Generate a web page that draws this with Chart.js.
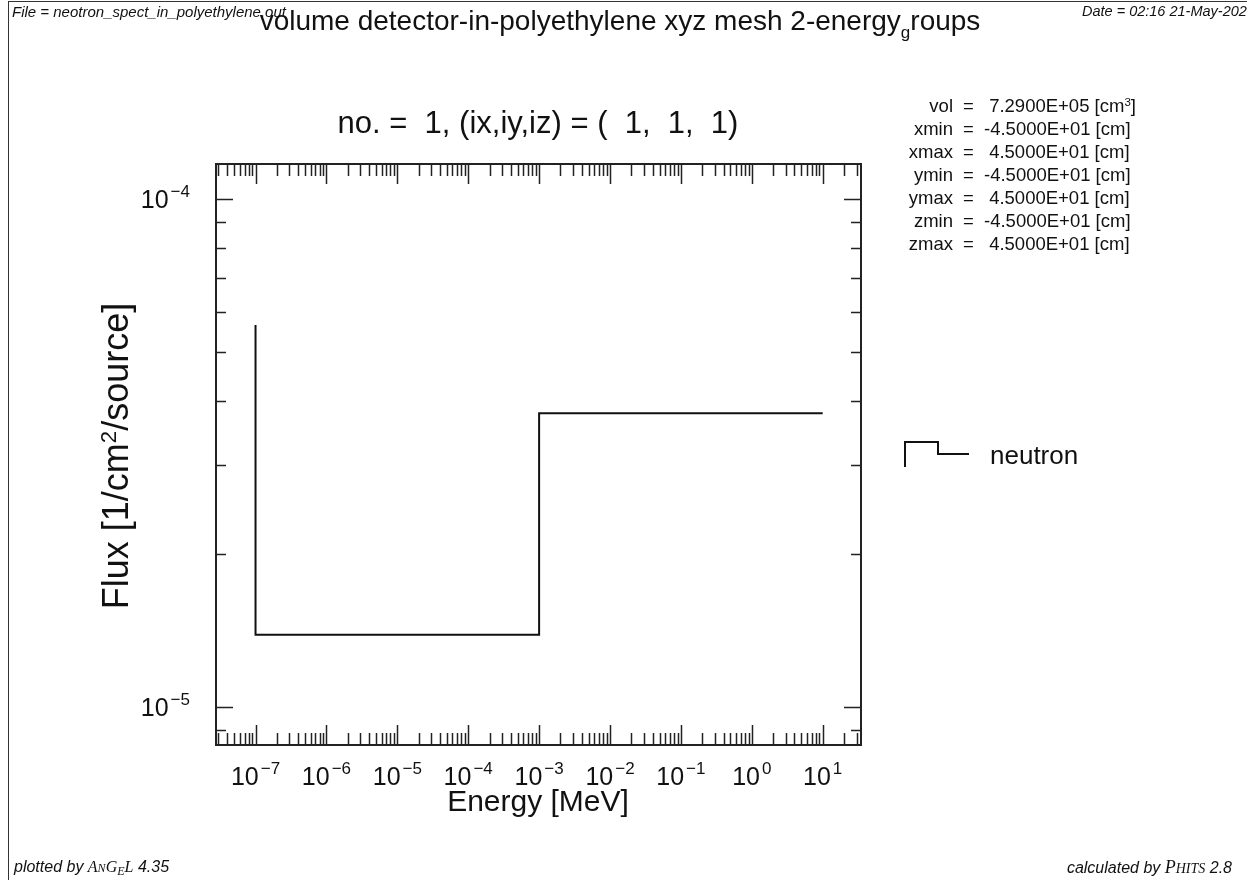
<!DOCTYPE html>
<html>
<head>
<meta charset="utf-8">
<script src="https://cdn.jsdelivr.net/npm/chart.js@4.4.0/dist/chart.umd.min.js"></script>
<style>
  body { margin: 0; background: #fff; }
  #page { position: relative; width: 1247px; height: 880px; overflow: hidden;
          font-family: "Liberation Sans", Arial, sans-serif; color: #111; }
  #flux { position: absolute; left: 0; top: 0; }
  #border { position: absolute; left: 8px; top: 1px; right: -10px; bottom: -10px;
            border-left: 1.5px solid #333; border-top: 1.5px solid #333; }
  .t { position: absolute; white-space: pre; }
  .small { font-size: 15px; line-height: 15px; font-style: italic; }
  .foot { font-size: 16px; line-height: 16px; font-style: italic; }
  .info { font-size: 18.5px; line-height: 18.5px; }
  .serif { font-family: "Liberation Serif", serif; }
  sup { font-size: 0.62em; vertical-align: 0; position: relative; top: -0.55em; }
</style>
</head>
<body>
<div id="page">
  <canvas id="flux" width="1247" height="880"></canvas>
  <div id="border"></div>

  <div class="t small" style="left:12px; top:4px;">File = neotron_spect_in_polyethylene.out</div>
  <div class="t small" style="left:1082px; top:4px; font-size:14.5px;">Date = 02:16 21-May-202</div>
  <div class="t" style="left:620px; top:7px; font-size:28px; line-height:28px; transform:translateX(-50%);">volume detector-in-polyethylene xyz mesh 2-energy<span style="font-size:17px; position:relative; top:8px;">g</span>roups</div>
  <div class="t" style="left:538px; top:107px; font-size:31px; line-height:31px; transform:translateX(-50%);">no. =  1, (ix,iy,iz) = (  1,  1,  1)</div>

  <div id="info"></div>

  <div class="t" style="left:538px; top:786px; font-size:30px; line-height:30px; transform:translateX(-50%);">Energy [MeV]</div>
  <div class="t" style="left:118px; top:456px; font-size:36px; line-height:36px; transform:translate(-50%,-50%) rotate(-90deg);">Flux [1/cm<sup>2</sup>/source]</div>

  <div class="t foot" style="left:14px; top:859px;">plotted by <span class="serif">A<span style="font-size:12px;">N</span>G<span style="font-size:12px; position:relative; top:3px;">E</span>L</span> 4.35</div>
  <div class="t foot" style="right:15px; top:859px;">calculated by <span class="serif" style="font-size:18px;">P<span style="font-size:14px;">HITS</span></span> 2.8</div>
</div>

<script>
// group boundaries [MeV] and flux per group [1/cm2/source]
const energyEdges = [1e-7, 1e-3, 1e1];
const fluxValues = [1.386e-5, 3.785e-5];
// level the histogram line starts from at the first edge
const startLevel = 5.65e-5;

// decade labels on each axis
const xExponents = [-7, -6, -5, -4, -3, -2, -1, 0, 1];
const yExponents = [-5, -4];

// mesh info block
const infoNames = ["vol", "xmin", "xmax", "ymin", "ymax", "zmin", "zmax"];
const infoNumbers = [" 7.2900E+05", "-4.5000E+01", " 4.5000E+01", "-4.5000E+01", " 4.5000E+01", "-4.5000E+01", " 4.5000E+01"];
const infoUnits = ["[cm<sup>3</sup>]", "[cm]", "[cm]", "[cm]", "[cm]", "[cm]", "[cm]"];

const info = document.getElementById("info");
for (let i = 0; i < infoNames.length; i++) {
  const top = 113 + 23 * i - 15.7;
  info.innerHTML +=
    `<div class="t info" style="right:294px; top:${top}px;">${infoNames[i]}</div>` +
    `<div class="t info" style="left:963px; top:${top}px;">=</div>` +
    `<div class="t info" style="left:984px; top:${top}px;">${infoNumbers[i]} ${infoUnits[i]}</div>`;
}

// histogram outline built from the edges and the group values
const stepPoints = [{ x: energyEdges[0], y: startLevel }];
for (let i = 0; i < fluxValues.length; i++) {
  stepPoints.push({ x: energyEdges[i], y: fluxValues[i] });
  stepPoints.push({ x: energyEdges[i + 1], y: fluxValues[i] });
}

function drawPower(ctx, exp, x, y, align) {
  const base = "10";
  const sup = (exp < 0 ? "\u2212" : "") + Math.abs(exp);
  ctx.font = "25px 'Liberation Sans'";
  const wb = ctx.measureText(base).width;
  ctx.font = "17px 'Liberation Sans'";
  const ws = ctx.measureText(sup).width;
  const w = wb + 2 + ws;
  const left = align === "center" ? x - w / 2 : x - w;
  ctx.font = "25px 'Liberation Sans'";
  ctx.fillText(base, left, y);
  ctx.font = "17px 'Liberation Sans'";
  ctx.fillText(sup, left + wb + 2, y - 11);
}

// frame, log ticks on all four sides, decade labels and the legend
const framePlugin = {
  id: "frame",
  afterDatasetsDraw(chart) {
    const ctx = chart.ctx;
    const a = chart.chartArea;
    const xs = chart.scales.x, ys = chart.scales.y;
    ctx.save();
    ctx.strokeStyle = "#222";
    ctx.fillStyle = "#111";
    ctx.lineWidth = 2;
    ctx.strokeRect(a.left, a.top, a.right - a.left, a.bottom - a.top);

    ctx.lineWidth = 1.5;
    ctx.beginPath();
    for (let d = -9; d <= 2; d++) {
      for (let m = 1; m <= 9; m++) {
        const v = m * Math.pow(10, d);
        if (v <= xs.min || v >= xs.max) continue;
        const px = Math.round(xs.getPixelForValue(v)) + 0.5;
        const len = m === 1 ? 20 : 12;
        ctx.moveTo(px, a.bottom); ctx.lineTo(px, a.bottom - len);
        ctx.moveTo(px, a.top); ctx.lineTo(px, a.top + len);
      }
    }
    for (let d = -7; d <= -3; d++) {
      for (let m = 1; m <= 9; m++) {
        const v = m * Math.pow(10, d);
        if (v <= ys.min || v >= ys.max) continue;
        const py = Math.round(ys.getPixelForValue(v)) + 0.5;
        const len = m === 1 ? 17 : 10;
        ctx.moveTo(a.left, py); ctx.lineTo(a.left + len, py);
        ctx.moveTo(a.right, py); ctx.lineTo(a.right - len, py);
      }
    }
    ctx.stroke();

    ctx.textBaseline = "alphabetic";
    ctx.textAlign = "left";
    xExponents.forEach(e => drawPower(ctx, e, xs.getPixelForValue(Math.pow(10, e)), 785, "center"));
    yExponents.forEach(e => drawPower(ctx, e, 190, ys.getPixelForValue(Math.pow(10, e)) + 9, "right"));

    // legend entry
    const ds = chart.data.datasets[0];
    ctx.strokeStyle = ds.borderColor;
    ctx.lineWidth = ds.borderWidth;
    ctx.beginPath();
    ctx.moveTo(905, 467); ctx.lineTo(905, 442); ctx.lineTo(938, 442);
    ctx.lineTo(938, 454); ctx.lineTo(969, 454);
    ctx.stroke();
    ctx.font = "26px 'Liberation Sans'";
    ctx.fillText(ds.label, 990, 464);
    ctx.restore();
  }
};

new Chart(document.getElementById("flux"), {
  type: "scatter",
  data: {
    datasets: [{
      label: "neutron",
      data: stepPoints,
      showLine: true,
      borderColor: "#111",
      borderWidth: 2,
      pointRadius: 0,
      tension: 0,
      fill: false
    }]
  },
  options: {
    responsive: false,
    animation: false,
    layout: { padding: { left: 216, top: 164, right: 386, bottom: 135 } },
    plugins: { legend: { display: false }, tooltip: { enabled: false } },
    scales: {
      x: { type: "logarithmic", min: 2.77e-8, max: 34.7, display: false },
      y: { type: "logarithmic", min: 8.41e-6, max: 1.172e-4, display: false }
    }
  },
  plugins: [framePlugin]
});
</script>
</body>
</html>
